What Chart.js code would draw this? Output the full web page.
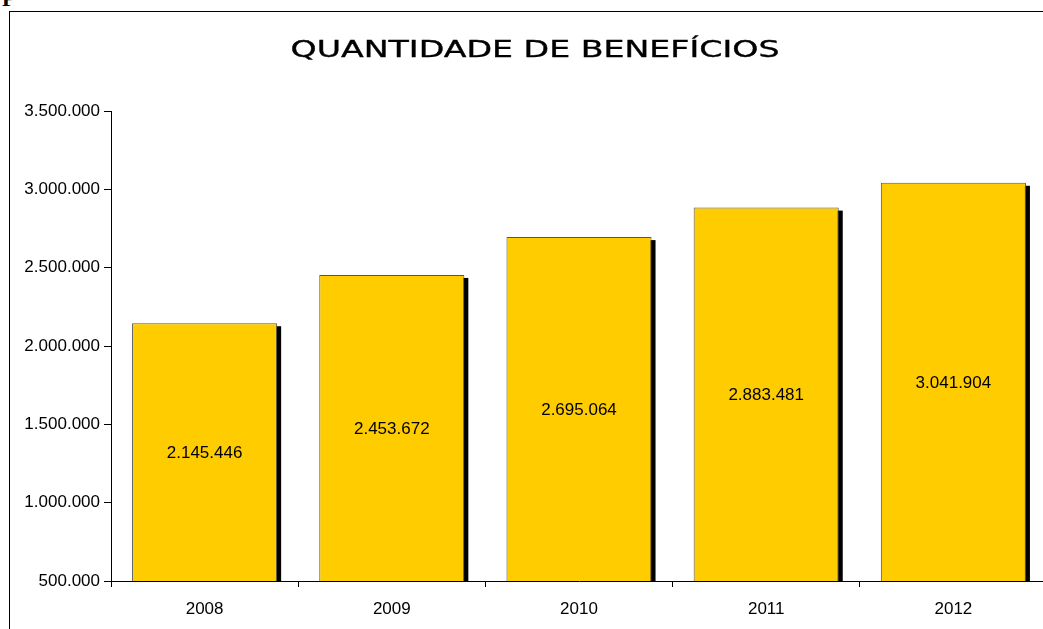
<!DOCTYPE html>
<html>
<head>
<meta charset="utf-8">
<script src="https://cdn.jsdelivr.net/npm/chart.js@4"></script>
<style>
  body { margin: 0; background: #fff; overflow: hidden; width: 1043px; height: 629px; }
  #corner { position: absolute; left: 2px; top: -12px; font: bold 22px "Liberation Serif"; color: #000; line-height: 22px; }
  #frame { position: absolute; left: 9px; top: 11px; width: 1100px; height: 700px; border: 1px solid #000; }
  #chart { position: absolute; left: 0; top: 0; }
</style>
</head>
<body>
<div id="corner">P</div>
<div id="frame"><canvas id="chart" width="1050" height="617"></canvas></div>
<script>
// Dados do gráfico
const anos = ["2008", "2009", "2010", "2011", "2012"];
const beneficios = [2145446, 2453672, 2695064, 2883481, 3041904];
const eixoMin = 500000;
const eixoMax = 3500000;
const eixoPasso = 500000;
const titulo = "QUANTIDADE DE BENEFÍCIOS";

const fonte = "'Liberation Sans', Arial, sans-serif";

function formatar(v) {
  return String(v).replace(/\B(?=(\d{3})+(?!\d))/g, ".");
}

// título largo (fonte expandida na horizontal)
const tituloPlugin = {
  id: "tituloLargo",
  afterDraw(chart) {
    const ctx = chart.ctx;
    ctx.save();
    ctx.font = "23px 'DejaVu Sans', sans-serif";
    ctx.fillStyle = "#000";
    ctx.strokeStyle = "#000";
    ctx.lineWidth = 0.35;
    ctx.textAlign = "center";
    ctx.textBaseline = "alphabetic";
    const w = ctx.measureText(titulo).width;
    const sx = 489 / w;
    ctx.translate(chart.width / 2, 45);
    ctx.scale(sx, 1);
    ctx.fillText(titulo, 0, 0);
    ctx.strokeText(titulo, 0, 0);
    ctx.restore();
  },
};

// sombra preta à direita das barras
const sombraPlugin = {
  id: "sombra",
  beforeDatasetsDraw(chart) {
    const ctx = chart.ctx;
    const area = chart.chartArea;
    const meta = chart.getDatasetMeta(0);
    ctx.save();
    ctx.beginPath();
    ctx.rect(area.left, area.top, chart.width - area.left, area.bottom - area.top);
    ctx.clip();
    ctx.fillStyle = "#000";
    meta.data.forEach((bar) => {
      const w = bar.width;
      ctx.fillRect(bar.x - w / 2 + 4, bar.y + 3, w, area.bottom - bar.y - 3);
    });
    ctx.restore();
  },
};

// rótulos de valor no meio das barras
const rotulosPlugin = {
  id: "rotulos",
  afterDatasetsDraw(chart) {
    const ctx = chart.ctx;
    const base = chart.chartArea.bottom;
    const meta = chart.getDatasetMeta(0);
    ctx.save();
    ctx.fillStyle = "#000";
    ctx.font = "17px " + fonte;
    ctx.textAlign = "center";
    ctx.textBaseline = "middle";
    meta.data.forEach((bar, i) => {
      ctx.fillText(formatar(beneficios[i]), bar.x, (bar.y + base) / 2 + 1);
    });
    ctx.restore();
  },
};

new Chart(document.getElementById("chart").getContext("2d"), {
  type: "bar",
  data: {
    labels: anos,
    datasets: [
      {
        data: beneficios,
        backgroundColor: "#FFCC00",
        borderColor: "#555555",
        borderWidth: 1,
        borderSkipped: "bottom",
        categoryPercentage: 1,
        barPercentage: 0.775,
      },
    ],
  },
  options: {
    responsive: false,
    animation: false,
    layout: { padding: { left: 0, right: 13, top: 99, bottom: 0 } },
    plugins: {
      legend: { display: false },
      tooltip: { enabled: false },
      title: { display: false },
    },
    scales: {
      x: {
        offset: true,
        grid: {
          offset: true,
          drawOnChartArea: false,
          drawTicks: true,
          tickLength: 6,
          color: "#000",
        },
        border: { display: true, color: "#000", width: 1 },
        ticks: { color: "#000", font: { family: fonte, size: 17 }, padding: 12 },
        afterFit(scale) { scale.height = 48; },
      },
      y: {
        min: eixoMin,
        max: eixoMax,
        grid: {
          drawOnChartArea: false,
          drawTicks: true,
          tickLength: 7,
          color: "#000",
        },
        border: { display: true, color: "#000", width: 1 },
        ticks: {
          stepSize: eixoPasso,
          color: "#000",
          font: { family: fonte, size: 17 },
          padding: 4,
          callback: (v) => formatar(v),
        },
        afterFit(scale) { scale.width = 101; },
      },
    },
  },
  plugins: [sombraPlugin, rotulosPlugin, tituloPlugin],
});
</script>
</body>
</html>
